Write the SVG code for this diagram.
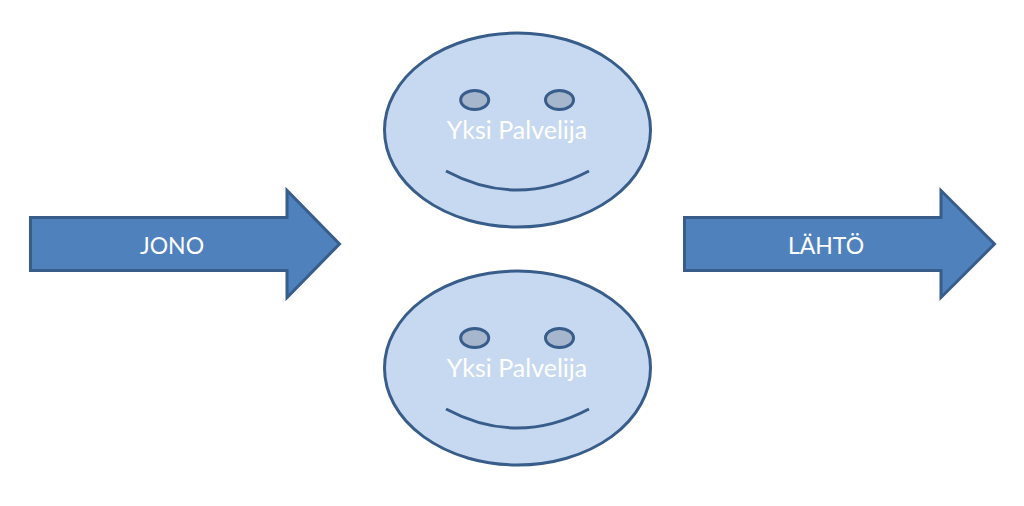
<svg xmlns="http://www.w3.org/2000/svg" width="1024" height="506" viewBox="0 0 1024 506">
<style>
.arrow{fill:#4f81bd;stroke:#385d8a;stroke-width:3}
.face{fill:#c6d9f1;stroke:#385d8a;stroke-width:3}
.eye{fill:#a5b6cd;stroke:#385d8a;stroke-width:3}
.smile{fill:none;stroke:#385d8a;stroke-width:3}
.t{font-family:"Lato","Liberation Sans",sans-serif;font-size:23px;fill:#fff;text-anchor:middle}
.f{font-size:25px}
</style>
<rect width="1024" height="506" fill="#fff"/>
<g id="jono"><path class="arrow" d="M30.500 217.500H287V190.500L339.500 244L287 297.500V270.500H30.500Z"/><text class="t" x="172" y="254">JONO</text></g>
<g id="lahto"><path class="arrow" d="M684.500 217.500H941V190.500L994.500 244L941 297.500V270.500H684.500Z"/><text class="t" x="826" y="254">LÄHTÖ</text></g>
<g id="palvelija1"><ellipse class="face" cx="517.500" cy="130" rx="133" ry="97"/><ellipse class="eye" cx="474.700" cy="100" rx="14" ry="9.500"/><ellipse class="eye" cx="559.500" cy="100" rx="14" ry="9.500"/><path class="smile" d="M446 171Q517 209 589 171"/><text class="t f" x="517" y="139">Yksi Palvelija</text></g>
<g id="palvelija2"><ellipse class="face" cx="517.500" cy="368" rx="133" ry="97"/><ellipse class="eye" cx="474.700" cy="338" rx="14" ry="9.500"/><ellipse class="eye" cx="559.500" cy="338" rx="14" ry="9.500"/><path class="smile" d="M446 409Q517 447 589 409"/><text class="t f" x="517" y="377">Yksi Palvelija</text></g>
<g id="connectors"/>
</svg>
